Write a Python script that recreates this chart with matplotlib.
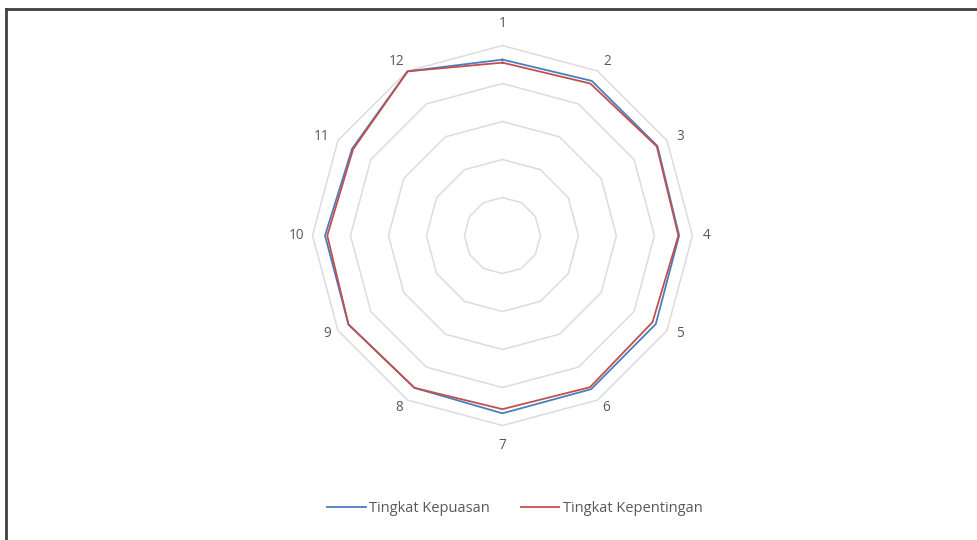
import matplotlib.pyplot as plt
from matplotlib.lines import Line2D
import numpy as np

plt.rcParams['font.family'] = ['Open Sans', 'DejaVu Sans']

categories = ["1", "2", "3", "4", "5", "6", "7", "8", "9", "10", "11", "12"]
kepuasan = [4.63, 4.70, 4.71, 4.65, 4.66, 4.67, 4.68, 4.63, 4.68, 4.67, 4.57, 4.99]
kepentingan = [4.55, 4.62, 4.69, 4.63, 4.56, 4.61, 4.57, 4.63, 4.68, 4.61, 4.54, 4.99]
ring_levels = [1, 2, 3, 4, 5]

# label offsets from the outer vertex, in pixels (x right, y up)
label_offsets = [(0, 22), (10, 9), (13, 4), (14, 0), (13, -3), (9, -7),
                 (0, -20), (-8, -7), (-11, -3), (-16, 0), (-16, 4), (-11, 9)]

BLUE = "#4a7ebf"
RED = "#c0504d"
GRID = "#dcdcdc"
TEXT = "#595959"

n = len(categories)
angles = np.linspace(0, 2 * np.pi, n, endpoint=False)
closed = np.append(angles, angles[0])

fig = plt.figure(figsize=(9.78, 5.4), dpi=100, facecolor="white")
ax = fig.add_axes([0.3195, 0.2120, 0.3885, 0.7037], projection="polar")
ax.set_theta_zero_location("N")
ax.set_theta_direction(-1)
ax.set_ylim(0, 5)
ax.grid(False)
ax.spines["polar"].set_visible(False)
ax.set_xticks([])
ax.set_yticks([])
ax.patch.set_alpha(0)

for r in ring_levels:
    ax.plot(closed, [r] * (n + 1), color=GRID, lw=1.1, zorder=1, clip_on=False)

ax.plot(closed, kepuasan + kepuasan[:1], color=BLUE, lw=1.3, zorder=3,
        label="Tingkat Kepuasan", clip_on=False)
ax.plot(closed, kepentingan + kepentingan[:1], color=RED, lw=1.3, zorder=4,
        label="Tingkat Kepentingan", clip_on=False)

for a, lab, off in zip(angles, categories, label_offsets):
    ax.annotate(lab, xy=(a, ring_levels[-1]), xytext=off,
                textcoords="offset pixels", ha="center", va="center",
                fontsize=9.8, color=TEXT, annotation_clip=False)

fig.legend(loc="center", bbox_to_anchor=(515 / 978, 1 - 509 / 540), ncol=2,
           frameon=False, fontsize=10.5, labelcolor=TEXT, handlelength=2.65,
           handletextpad=0.25, columnspacing=2.1)

# partial border as in the screenshot
fig.add_artist(Line2D([6 / 978, 1], [1 - 9 / 540, 1 - 9 / 540],
                      transform=fig.transFigure, color="#404040", lw=2))
fig.add_artist(Line2D([6 / 978, 6 / 978], [0, 1 - 9 / 540],
                      transform=fig.transFigure, color="#404040", lw=2))

plt.savefig("out.png", dpi=100, facecolor="white")
